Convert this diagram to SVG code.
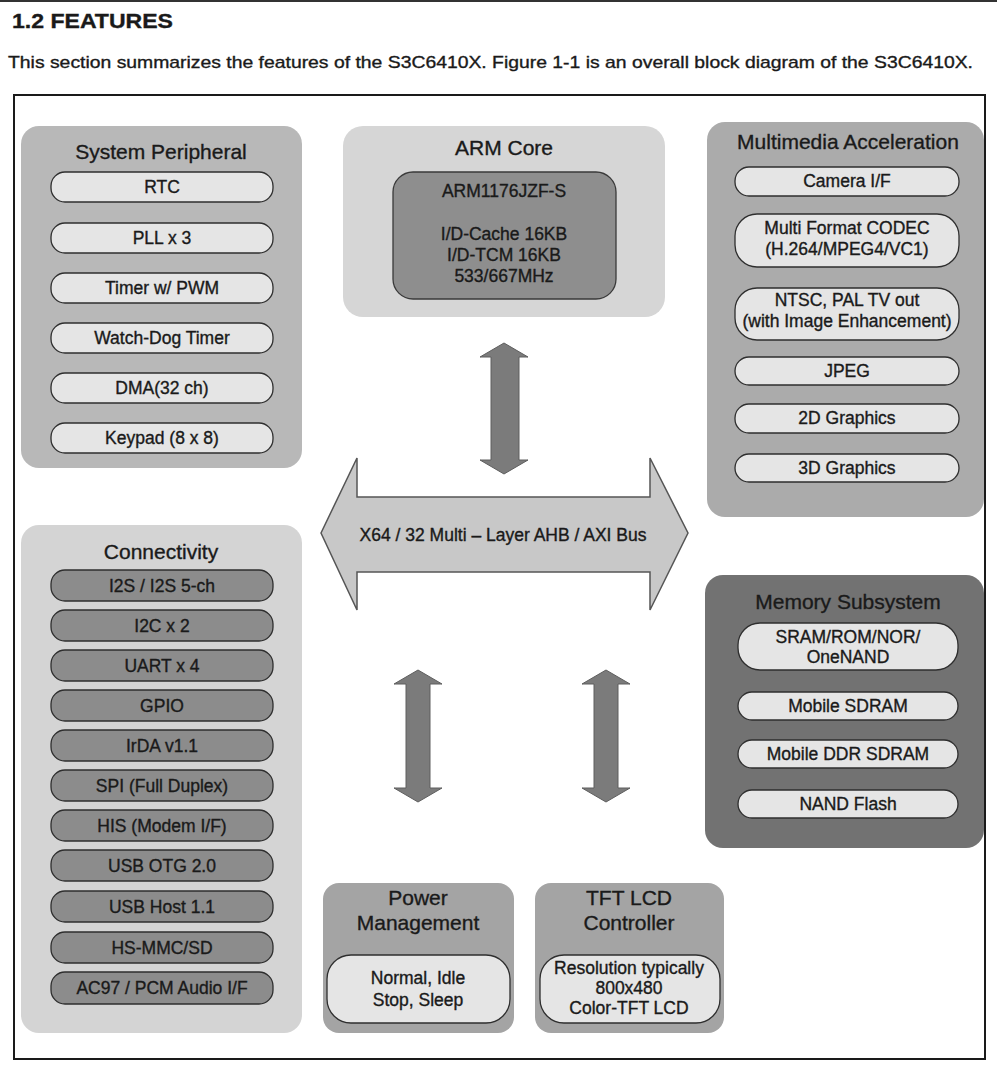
<svg xmlns="http://www.w3.org/2000/svg" width="997" height="1066" viewBox="0 0 997 1066">
<style>
text{font-family:"Liberation Sans",Arial,sans-serif;fill:#1a1a1a;stroke:#1a1a1a;stroke-width:0.35;text-anchor:middle}
.t{font-size:21px}
.p{font-size:17.5px}
.pill{stroke:#2e2e2e;stroke-width:1.3}
.lp{fill:#e5e5e5}
.dp{fill:#8c8c8c}
.arr{fill:#7b7b7b;stroke:#5e5e5e;stroke-width:1}
</style>
<rect width="997" height="1066" fill="#fff"/>
<line x1="0" y1="1" x2="997" y2="1" stroke="#333" stroke-width="2"/>
<text x="12" y="28" style="font-size:20px;font-weight:bold;text-anchor:start" textLength="161" lengthAdjust="spacingAndGlyphs">1.2 FEATURES</text>
<text x="8" y="68" style="font-size:17px;text-anchor:start" textLength="965" lengthAdjust="spacingAndGlyphs">This section summarizes the features of the S3C6410X. Figure 1-1 is an overall block diagram of the S3C6410X.</text>
<rect x="14" y="95" width="971" height="964" fill="none" stroke="#1a1a1a" stroke-width="2"/>

<g id="connectors">
<polygon class="arr" points="504,343 528,357 519,357 519,460 528,460 504,474 480,460 491,460 491,357 480,357"/>
<polygon class="arr" points="418,670 442,684 430,684 430,788 442,788 418,802 394,788 406,788 406,684 394,684"/>
<polygon class="arr" points="606,670 630,684 618,684 618,788 630,788 606,802 582,788 594,788 594,684 582,684"/>
</g>

<g id="bus">
<polygon points="321,533 357,458 357,497 650,497 650,458 688,533 650,610 650,572 357,572 357,610" fill="#c8c8c8" stroke="#555" stroke-width="1.5"/>
<text class="p" x="503" y="541">X64 / 32 Multi – Layer AHB / AXI Bus</text>
</g>

<g id="system-peripheral">
<rect x="21" y="126" width="281" height="342" rx="18" fill="#b8b8b8"/>
<text class="t" x="161" y="159">System Peripheral</text>
<rect class="pill lp" x="51" y="172" width="222" height="30" rx="14"/><text class="p" x="162" y="193">RTC</text>
<rect class="pill lp" x="51" y="223" width="222" height="30" rx="14"/><text class="p" x="162" y="244">PLL x 3</text>
<rect class="pill lp" x="51" y="273" width="222" height="30" rx="14"/><text class="p" x="162" y="294">Timer w/ PWM</text>
<rect class="pill lp" x="51" y="323" width="222" height="30" rx="14"/><text class="p" x="162" y="344">Watch-Dog Timer</text>
<rect class="pill lp" x="51" y="373" width="222" height="30" rx="14"/><text class="p" x="162" y="394">DMA(32 ch)</text>
<rect class="pill lp" x="51" y="423" width="222" height="30" rx="14"/><text class="p" x="162" y="444">Keypad (8 x 8)</text>
</g>

<g id="arm-core">
<rect x="343" y="126" width="322" height="191" rx="20" fill="#d6d6d6"/>
<text class="t" x="504" y="155">ARM Core</text>
<rect x="393" y="172" width="223" height="127" rx="20" fill="#8e8e8e" stroke="#3a3a3a" stroke-width="1.3"/>
<text class="p" x="504" y="197">ARM1176JZF-S</text>
<text class="p" x="504" y="240">I/D-Cache 16KB</text>
<text class="p" x="504" y="261">I/D-TCM 16KB</text>
<text class="p" x="504" y="282">533/667MHz</text>
</g>

<g id="multimedia">
<rect x="707" y="122" width="277" height="395" rx="18" fill="#ababab"/>
<text class="t" x="848" y="149">Multimedia Acceleration</text>
<rect class="pill lp" x="735" y="167" width="224" height="29" rx="14"/><text class="p" x="847" y="187">Camera I/F</text>
<rect class="pill lp" x="735" y="214" width="224" height="53" rx="22"/><text class="p" x="847" y="234">Multi Format CODEC</text><text class="p" x="847" y="255">(H.264/MPEG4/VC1)</text>
<rect class="pill lp" x="735" y="288" width="224" height="52" rx="22"/><text class="p" x="847" y="306">NTSC, PAL TV out</text><text class="p" x="847" y="327">(with Image Enhancement)</text>
<rect class="pill lp" x="735" y="357" width="224" height="28" rx="14"/><text class="p" x="847" y="377">JPEG</text>
<rect class="pill lp" x="735" y="404" width="224" height="29" rx="14"/><text class="p" x="847" y="424">2D Graphics</text>
<rect class="pill lp" x="735" y="454" width="224" height="28" rx="14"/><text class="p" x="847" y="474">3D Graphics</text>
</g>

<g id="connectivity">
<rect x="21" y="525" width="281" height="508" rx="18" fill="#d4d4d4"/>
<text class="t" x="161" y="559">Connectivity</text>
<rect class="pill dp" x="51" y="570" width="222" height="31" rx="14"/><text class="p" x="162" y="592">I2S / I2S 5-ch</text>
<rect class="pill dp" x="51" y="610" width="222" height="31" rx="14"/><text class="p" x="162" y="632">I2C x 2</text>
<rect class="pill dp" x="51" y="650" width="222" height="31" rx="14"/><text class="p" x="162" y="672">UART x 4</text>
<rect class="pill dp" x="51" y="690" width="222" height="31" rx="14"/><text class="p" x="162" y="712">GPIO</text>
<rect class="pill dp" x="51" y="730" width="222" height="31" rx="14"/><text class="p" x="162" y="752">IrDA v1.1</text>
<rect class="pill dp" x="51" y="770" width="222" height="31" rx="14"/><text class="p" x="162" y="792">SPI (Full Duplex)</text>
<rect class="pill dp" x="51" y="810" width="222" height="31" rx="14"/><text class="p" x="162" y="832">HIS (Modem I/F)</text>
<rect class="pill dp" x="51" y="850" width="222" height="31" rx="14"/><text class="p" x="162" y="872">USB OTG 2.0</text>
<rect class="pill dp" x="51" y="891" width="222" height="31" rx="14"/><text class="p" x="162" y="913">USB Host 1.1</text>
<rect class="pill dp" x="51" y="932" width="222" height="31" rx="14"/><text class="p" x="162" y="954">HS-MMC/SD</text>
<rect class="pill dp" x="51" y="972" width="222" height="32" rx="14"/><text class="p" x="162" y="994">AC97 / PCM Audio I/F</text>
</g>

<g id="memory">
<rect x="705" y="575" width="279" height="273" rx="18" fill="#727272"/>
<text class="t" x="848" y="609">Memory Subsystem</text>
<rect class="pill lp" x="738" y="623" width="220" height="47" rx="22"/><text class="p" x="848" y="643">SRAM/ROM/NOR/</text><text class="p" x="848" y="663">OneNAND</text>
<rect class="pill lp" x="738" y="692" width="220" height="28" rx="14"/><text class="p" x="848" y="712">Mobile SDRAM</text>
<rect class="pill lp" x="738" y="740" width="220" height="28" rx="14"/><text class="p" x="848" y="760">Mobile DDR SDRAM</text>
<rect class="pill lp" x="738" y="790" width="220" height="28" rx="14"/><text class="p" x="848" y="810">NAND Flash</text>
</g>

<g id="power">
<rect x="323" y="883" width="191" height="150" rx="16" fill="#a4a4a4"/>
<text class="t" x="418" y="905">Power</text>
<text class="t" x="418" y="930">Management</text>
<rect class="pill lp" x="327" y="955" width="183" height="68" rx="24"/>
<text class="p" x="418" y="984">Normal, Idle</text>
<text class="p" x="418" y="1006">Stop, Sleep</text>
</g>

<g id="tft-lcd">
<rect x="535" y="883" width="189" height="150" rx="16" fill="#a4a4a4"/>
<text class="t" x="629" y="905">TFT LCD</text>
<text class="t" x="629" y="930">Controller</text>
<rect class="pill lp" x="540" y="955" width="180" height="68" rx="24"/>
<text class="p" x="629" y="974">Resolution typically</text>
<text class="p" x="629" y="994">800x480</text>
<text class="p" x="629" y="1014">Color-TFT LCD</text>
</g>
</svg>
